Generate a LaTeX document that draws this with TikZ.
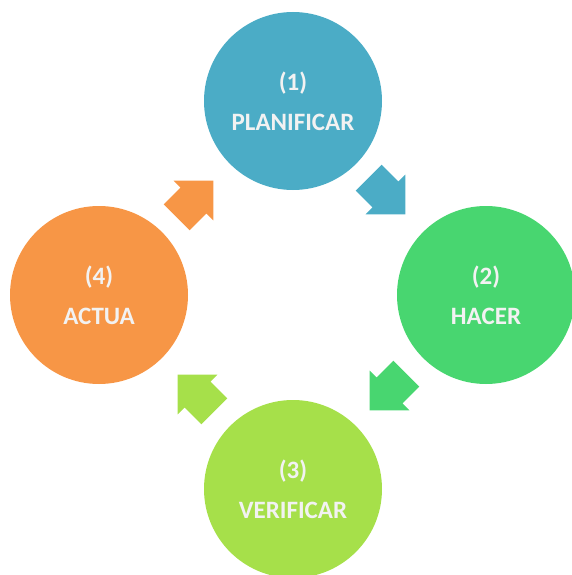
\documentclass[tikz,border=0pt]{standalone}
\usepackage{fontspec}
\setmainfont{Carlito}
\definecolor{cblue}{HTML}{4BACC6}
\definecolor{cgreen}{HTML}{48D670}
\definecolor{clime}{HTML}{A6E04A}
\definecolor{corange}{HTML}{F79646}
\definecolor{ctext}{HTML}{F2F2F2}
\tikzset{
  phase/.style={circle, minimum size=178pt, inner sep=0pt, text=ctext,
    font=\bfseries\fontsize{25}{40}\selectfont, align=center},
}
\newcommand{\blockarr}[4]{%
  \begin{scope}[shift={#1}, rotate=#2, scale=1.08]
    \fill[#3] (-24,17) -- (-2,17) -- (-2,26) -- (24,0) -- (-2,-26) -- (-2,-17) -- (-24,-17) -- cycle;
  \end{scope}}
\begin{document}
\begin{tikzpicture}[x=1pt,y=-1pt]
\useasboundingbox (0,0) rectangle (572,575);
\node[phase, fill=cblue] (plan) at (293,101) {(1)\\PLANIFICAR};
\node[phase, fill=cgreen] (hacer) at (486,295) {(2)\\HACER};
\node[phase, fill=clime] (verif) at (293,489) {(3)\\VERIFICAR};
\node[phase, fill=corange] (actua) at (99,295) {(4)\\ACTUA};
\blockarr{(387,196)}{-45}{cblue}{}
\blockarr{(388,392)}{-135}{cgreen}{}
\blockarr{(196,393)}{135}{clime}{}
\blockarr{(195,199)}{45}{corange}{}
\end{tikzpicture}
\end{document}
